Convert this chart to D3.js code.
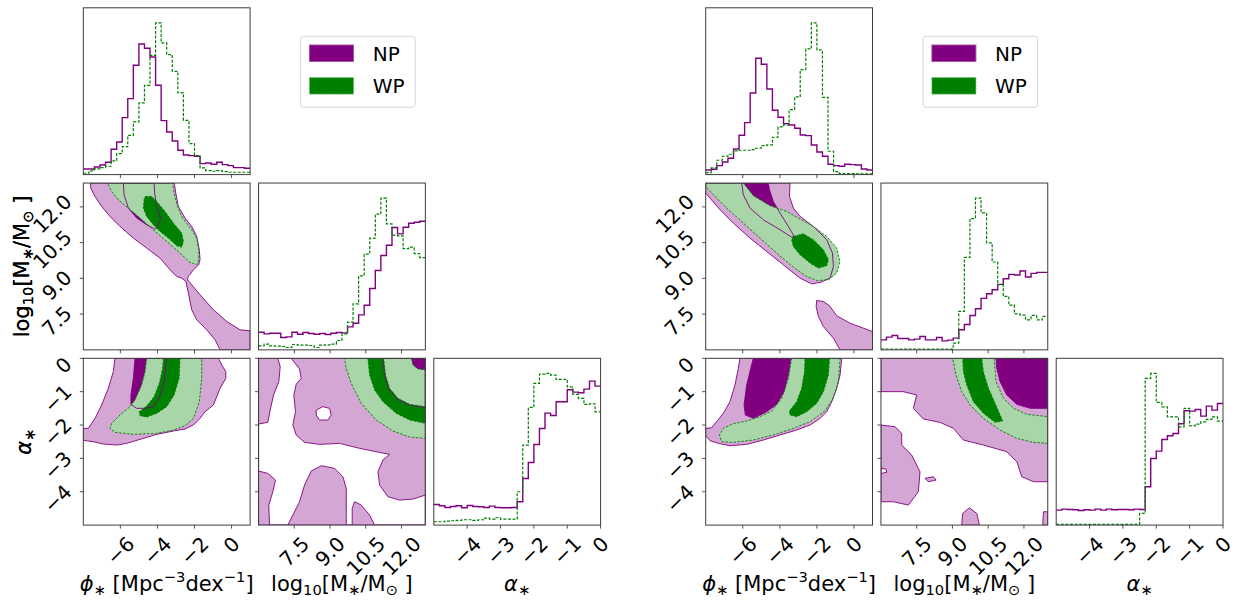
<!DOCTYPE html>
<html>
<head>
<meta charset="utf-8">
<script src="https://cdn.jsdelivr.net/npm/d3@7/dist/d3.min.js"></script>
<style>
  html, body { margin: 0; padding: 0; background: #fff; }
  text { font-family: "DejaVu Sans", sans-serif; fill: #000; }
</style>
</head>
<body>
<svg id="chart" width="1236" height="600"></svg>
<script>
// ---------- parameter ranges and ticks ----------
const phiRange = [-8, 1];
const massRange = [6, 13];
const alphaRange = [-5, 0];
const phiTicks = [-6, -4, -2, 0];
const massTicks = [7.5, 9.0, 10.5, 12.0];
const alphaTicks = [-4, -3, -2, -1, 0];
const seriesNames = ["NP", "WP"];

// ---------- 1D marginal histograms (30 bins over each range) ----------
// left corner
const npPhiL   = [17,17,23,29,37,76,98,171,228,328,392,379,353,268,162,128,101,73,59,57,55,33,35,31,37,30,27,21,21,19];
const wpPhiL   = [4,11,17,21,25,41,63,84,118,158,215,268,358,455,395,360,310,245,163,93,57,20,12,10,12,9,7,7,7,7];
const npMassL  = [53,48,50,50,37,39,53,47,52,49,47,49,46,50,52,51,69,80,105,134,184,238,283,314,367,348,368,380,383,386];
const wpMassL  = [12,17,12,11,10,7,16,14,14,13,7,14,15,17,28,48,83,138,222,287,335,407,455,378,344,342,304,308,289,277];
const npAlphaL = [62,58,53,56,58,52,59,56,55,53,57,53,52,52,53,70,140,188,242,290,336,329,370,370,406,399,397,408,432,417];
const wpAlphaL = [10,10,12,13,14,16,16,14,16,21,18,22,18,18,18,100,240,353,425,453,455,450,437,437,415,392,380,362,364,340];
// right corner
const npPhiR   = [14,16,27,38,49,77,118,156,245,349,331,257,193,172,153,149,139,119,117,89,68,55,31,27,25,31,30,29,17,14];
const wpPhiR   = [6,20,43,55,61,71,73,73,75,79,87,89,112,143,149,195,233,315,377,455,374,232,70,9,3,3,3,2,2,2];
const npMassR  = [30,38,43,34,34,30,32,40,30,30,37,27,29,35,60,76,103,123,154,168,180,196,213,226,224,236,218,229,232,232];
const wpMassR  = [2,2,2,2,2,2,2,2,2,2,2,2,2,20,115,277,393,454,410,320,263,195,160,134,108,104,90,103,90,100];
const npAlphaR = [45,48,47,46,44,46,45,48,45,48,46,47,47,46,48,47,115,200,222,257,268,275,304,343,342,347,327,357,345,365];
const wpAlphaR = [2,2,2,2,2,2,2,2,2,2,2,2,2,2,2,35,440,455,368,355,325,325,295,350,298,303,310,317,325,312];

// ---------- 2D credible regions (rings of [x, y] in data units) ----------
// suffix 2 = outer (2-sigma) region, 1 = inner (1-sigma) region
// left corner: phi vs log mass
const npPhiMass2L = [[[-7.6,13],[-3.09,13],[-3.01,12.58],[-2.87,12.02],[-2.51,11.53],[-2.15,11.18],[-1.88,10.76],[-1.74,10.2],[-1.7,9.78],[-1.77,9.57],[-2.06,9.36],[-2.33,9.08],[-2.38,8.94],[-2.15,8.73],[-1.7,8.31],[-0.98,7.68],[-0.26,7.19],[0.46,6.84],[1,6.8],[1,6],[-0.62,6],[-0.89,6.42],[-1.34,6.84],[-1.88,7.26],[-2.15,7.68],[-2.33,8.38],[-2.46,8.87],[-2.69,9.01],[-2.96,9.08],[-3.32,9.36],[-3.86,9.85],[-4.58,10.27],[-5.3,10.69],[-6.02,11.18],[-6.56,11.6],[-7.01,12.02],[-7.37,12.44],[-7.6,12.79]]];
const npPhiMass1L = [[[-5.84,13],[-5.8,12.51],[-5.57,11.95],[-5.12,11.53],[-4.58,11.25],[-4.13,11.07],[-4.04,11.1],[-3.82,11.49],[-4.04,12.02],[-4.15,12.58],[-4.18,13]]];
const wpPhiMass2L = [[[-6.7,13],[-3.18,13],[-3.1,12.58],[-2.92,12.02],[-2.64,11.53],[-2.15,11.04],[-1.88,10.69],[-1.77,10.2],[-1.77,9.78],[-1.88,9.57],[-2.24,9.67],[-2.78,10.06],[-3.5,10.55],[-4.22,11.04],[-4.94,11.53],[-5.57,11.95],[-6.11,12.3],[-6.47,12.65]]];
const wpPhiMass1L = [[[-4.67,12.44],[-4.31,12.44],[-4.04,12.23],[-3.59,11.81],[-3.14,11.32],[-2.69,10.9],[-2.6,10.55],[-2.69,10.31],[-2.96,10.37],[-3.41,10.69],[-3.86,10.97],[-4.22,11.25],[-4.58,11.6],[-4.76,11.95],[-4.72,12.3]]];
// left corner: phi vs alpha
const npPhiAlpha2L = [[[-6.29,0],[-0.71,0],[-0.53,-0.2],[-0.31,-0.4],[-0.31,-0.6],[-0.62,-0.9],[-0.98,-1.4],[-1.43,-1.6],[-1.7,-1.8],[-2.06,-2.0],[-2.51,-2.12],[-3.14,-2.18],[-4.04,-2.28],[-4.94,-2.43],[-5.66,-2.55],[-6.2,-2.6],[-6.92,-2.57],[-7.46,-2.5],[-8,-2.46],[-8,-2.1],[-7.73,-2.1],[-7.37,-1.8],[-7.01,-1.4],[-6.65,-0.9],[-6.38,-0.4]]];
const npPhiAlpha1L = [[[-5.21,0],[-5.3,-0.6],[-5.43,-1.1],[-5.43,-1.38],[-5.12,-1.5],[-4.67,-1.5],[-4.22,-1.45],[-3.9,-1.18],[-3.64,-0.7],[-3.5,0]]];
const wpPhiAlpha2L = [[[-4.58,0],[-1.61,0],[-1.61,-0.6],[-1.74,-1.3],[-2.06,-1.8],[-2.51,-2.02],[-3.14,-2.15],[-4.04,-2.25],[-5.3,-2.28],[-6.29,-2.22],[-6.56,-2.1],[-6.47,-1.95],[-6.02,-1.7],[-5.48,-1.45],[-5.21,-1.25],[-4.85,-0.8],[-4.67,-0.4]]];
const wpPhiAlpha1L = [[[-3.68,0],[-2.78,0],[-2.83,-0.6],[-3.1,-1.1],[-3.5,-1.45],[-4.04,-1.65],[-4.58,-1.76],[-4.94,-1.72],[-4.98,-1.6],[-4.58,-1.43],[-4.18,-1.15],[-3.9,-0.75],[-3.72,-0.3]]];
// left corner: log mass vs alpha (outer NP region = frame minus empty patches)
const npMassAlpha2L = [
  [[6,0],[13,0],[13,-5],[6,-5]],
  [[6.81,0],[7.37,0],[7.72,-0.32],[7.79,-0.6],[7.58,-0.78],[7.48,-1.1],[7.55,-1.6],[7.44,-2.0],[7.58,-2.3],[7.93,-2.52],[8.56,-2.58],[9.4,-2.55],[10.24,-2.7],[11.08,-2.82],[11.5,-2.88],[11.22,-3.05],[11.01,-3.4],[11.08,-3.8],[11.43,-4.15],[11.92,-4.25],[12.48,-4.22],[13,-4.1],[13,-5],[10.87,-5],[10.66,-4.7],[10.31,-4.4],[10.03,-4.3],[9.93,-4.5],[9.93,-5],[9.68,-5],[9.68,-3.9],[9.54,-3.55],[9.19,-3.3],[8.63,-3.22],[8.21,-3.38],[7.93,-3.8],[7.72,-4.3],[7.44,-4.7],[7.23,-5],[6.46,-5],[6.43,-4.4],[6.6,-4.0],[6.71,-3.65],[6.39,-3.45],[6,-3.38],[6,-1.97],[6.39,-1.92],[6.49,-1.55],[6.63,-1.1],[6.85,-0.7],[6.91,-0.25]],
  [[8.42,-1.55],[8.7,-1.45],[8.98,-1.5],[9.05,-1.7],[8.91,-1.85],[8.56,-1.85],[8.42,-1.7]]
];
const npMassAlpha1L = [[[11.22,0],[13,0],[13,-1.48],[12.31,-1.4],[11.82,-1.22],[11.47,-0.92],[11.29,-0.52]]];
const wpMassAlpha2L = [
  [[9.61,0],[13,0],[13,-2.4],[12.34,-2.36],[11.64,-2.18],[10.94,-1.85],[10.31,-1.35],[9.89,-0.75],[9.68,-0.3]],
  [[12.41,0],[13,0],[13,-0.35],[12.69,-0.32],[12.48,-0.2]]
];
const wpMassAlpha1L = [[[10.59,0],[10.66,-0.5],[10.87,-0.95],[11.22,-1.3],[11.78,-1.65],[12.34,-1.85],[13,-1.95],[13,-1.45],[12.34,-1.38],[11.85,-1.2],[11.5,-0.9],[11.33,-0.5],[11.25,0]]];

// right corner: phi vs log mass
const npPhiMass2R = [
  [[-8,13],[-3.45,13],[-3.48,12.44],[-3.27,11.95],[-2.91,11.6],[-2.19,11.18],[-1.47,10.62],[-1.16,10.06],[-1.11,9.5],[-1.29,9.01],[-1.83,8.83],[-2.28,8.77],[-2.91,9.01],[-3.81,9.57],[-4.71,10.13],[-5.61,10.69],[-6.51,11.32],[-7.23,11.88],[-7.77,12.37],[-8,12.58]],
  [[-2.01,8.07],[-1.65,8.03],[-1.32,7.85],[-0.93,7.43],[-0.21,7.12],[0.51,6.91],[1,6.77],[1,6],[-0.75,6],[-1.11,6.49],[-1.65,6.98],[-1.92,7.4],[-2.04,7.82]]
];
const npPhiMass1R = [[[-6.06,13],[-5.97,12.51],[-5.61,11.95],[-4.89,11.46],[-3.99,11.04],[-3.36,10.73],[-3.23,10.76],[-3.54,11.18],[-3.99,11.74],[-4.35,12.23],[-4.56,12.72],[-4.62,13]]];
const wpPhiMass2R = [[[-8,13],[-5.97,13],[-5.43,12.47],[-4.53,12.05],[-3.63,11.81],[-2.91,11.49],[-2.19,11.18],[-1.47,10.76],[-0.93,10.27],[-0.75,9.71],[-0.93,9.22],[-1.38,8.94],[-2.01,8.91],[-2.55,9.08],[-3.27,9.47],[-4.17,10.06],[-5.07,10.69],[-5.97,11.32],[-6.87,11.95],[-7.59,12.51],[-8,12.86]]];
const wpPhiMass1R = [[[-3.27,10.76],[-2.73,10.87],[-2.19,10.62],[-1.65,10.2],[-1.38,9.78],[-1.47,9.53],[-1.92,9.43],[-2.37,9.64],[-2.91,9.99],[-3.27,10.34],[-3.36,10.62]]];
// right corner: phi vs alpha
const npPhiAlpha2R = [[[-6.15,0],[-0.66,0],[-0.75,-0.5],[-0.93,-0.9],[-1.2,-1.3],[-1.47,-1.6],[-1.83,-1.8],[-2.37,-2.0],[-3.09,-2.15],[-3.99,-2.3],[-4.89,-2.45],[-5.79,-2.58],[-6.69,-2.62],[-7.32,-2.55],[-7.77,-2.47],[-8,-2.32],[-8,-2.1],[-7.68,-2.08],[-7.41,-1.9],[-7.05,-1.65],[-6.69,-1.3],[-6.42,-0.8],[-6.24,-0.3]]];
const npPhiAlpha1R = [[[-5.43,0],[-3.41,0],[-3.54,-0.5],[-3.77,-1.0],[-4.17,-1.38],[-4.71,-1.6],[-5.43,-1.8],[-5.86,-1.7],[-5.93,-1.4],[-5.79,-0.8],[-5.57,-0.3]]];
const wpPhiAlpha2R = [[[-3.36,0],[-0.75,0],[-0.84,-0.7],[-1.11,-1.2],[-1.61,-1.6],[-2.37,-1.9],[-3.27,-2.1],[-4.35,-2.3],[-5.43,-2.45],[-6.51,-2.52],[-7.14,-2.5],[-7.26,-2.3],[-7.05,-2.1],[-6.51,-1.96],[-5.79,-1.88],[-5.07,-1.75],[-4.44,-1.58],[-3.9,-1.2],[-3.54,-0.6]]];
const wpPhiAlpha1R = [[[-2.64,0],[-1.32,0],[-1.38,-0.5],[-1.65,-1.0],[-2.01,-1.35],[-2.55,-1.6],[-3.09,-1.75],[-3.45,-1.7],[-3.48,-1.58],[-3.09,-1.3],[-2.82,-0.9],[-2.67,-0.4]]];
// right corner: log mass vs alpha
const npMassAlpha2R = [
  [[6,0],[13,0],[13,-3.7],[12.4,-3.7],[11.91,-3.55],[11.7,-3.1],[11.28,-2.8],[10.3,-2.6],[9.46,-2.45],[9.04,-2.1],[8.48,-1.92],[7.78,-1.82],[7.36,-1.5],[7.5,-1.1],[6.94,-1.0],[6.38,-1.0],[6,-1.0]],
  [[6,-2],[6.59,-2.05],[6.87,-2.25],[6.87,-2.6],[7.29,-2.9],[7.64,-3.4],[7.57,-4.0],[7.15,-4.4],[6.52,-4.3],[6,-4.3]],
  [[6,-3.3],[6.21,-3.32],[6.24,-3.42],[6,-3.45]],
  [[9.39,-5],[9.43,-4.65],[9.71,-4.48],[10.02,-4.65],[10.13,-5]],
  [[12.79,-5],[12.82,-4.6],[13,-4.6],[13,-5]],
  [[7.85,-3.6],[8.2,-3.55],[8.31,-3.65],[7.99,-3.7]]
];
const npMassAlpha1R = [[[10.83,0],[13,0],[13,-1.5],[12.26,-1.5],[11.7,-1.38],[11.28,-1.1],[11,-0.7],[10.86,-0.3]]];
const wpMassAlpha2R = [
  [[9.01,0],[13,0],[13,-2.55],[12.4,-2.52],[11.7,-2.4],[11,-2.15],[10.3,-1.8],[9.74,-1.4],[9.39,-1.0],[9.15,-0.5]],
  [[10.75,0],[10.83,-0.7],[11.14,-1.2],[11.56,-1.5],[12.12,-1.68],[13,-1.75],[13,0]]
];
const wpMassAlpha1R = [[[9.43,0],[10.23,0],[10.3,-0.4],[10.51,-0.9],[10.79,-1.35],[11.11,-1.88],[10.79,-1.92],[10.3,-1.65],[9.88,-1.3],[9.6,-0.8],[9.46,-0.4]]];

// ---------- styling ----------
const NP_DARK = "#800080", NP_LIGHT = "#d4a6d4";
const WP_DARK = "#008000", WP_LIGHT = "#a9d6a9";
const SPINE = "#3c3c3c";
const FS = 20;        // tick labels and legend
const LABEL_FS = 21;  // axis titles

const panelSize = 166.8, panelStep = 175.25, panelTop = 7.8;

const intFmt = d => (d < 0 ? "\u2212" + Math.abs(d) : String(d));
const phiLabel = [{t: "\u03d5", it: 1}, {t: "\u2217", sub: 1}, {t: "\u00a0[Mpc"}, {t: "\u22123", sup: 1}, {t: "dex"}, {t: "\u22121", sup: 1}, {t: "]"}];
const massLabel = [{t: "log"}, {t: "10", sub: 1}, {t: "[M"}, {t: "\u2217", sub: 1}, {t: "/M"}, {t: "\u2299", sub: 1}, {t: "\u00a0]"}];
const alphaLabel = [{t: "\u03b1", it: 1}, {t: "\u2217", sub: 1}];

const params = [
  {range: phiRange, ticks: phiTicks, fmt: intFmt, label: phiLabel},
  {range: massRange, ticks: massTicks, fmt: d => d.toFixed(1), label: massLabel},
  {range: alphaRange, ticks: alphaTicks, fmt: intFmt, label: alphaLabel}
];

const corners = [
  {left: 83.3,
   hist: [[npPhiL, wpPhiL], [npMassL, wpMassL], [npAlphaL, wpAlphaL]],
   regions: {
     "1-0": {np2: npPhiMass2L, np1: npPhiMass1L, wp2: wpPhiMass2L, wp1: wpPhiMass1L},
     "2-0": {np2: npPhiAlpha2L, np1: npPhiAlpha1L, wp2: wpPhiAlpha2L, wp1: wpPhiAlpha1L},
     "2-1": {np2: npMassAlpha2L, np1: npMassAlpha1L, wp2: wpMassAlpha2L, wp1: wpMassAlpha1L}
   }},
  {left: 705.7,
   hist: [[npPhiR, wpPhiR], [npMassR, wpMassR], [npAlphaR, wpAlphaR]],
   regions: {
     "1-0": {np2: npPhiMass2R, np1: npPhiMass1R, wp2: wpPhiMass2R, wp1: wpPhiMass1R},
     "2-0": {np2: npPhiAlpha2R, np1: npPhiAlpha1R, wp2: wpPhiAlpha2R, wp1: wpPhiAlpha1R},
     "2-1": {np2: npMassAlpha2R, np1: npMassAlpha1R, wp2: wpMassAlpha2R, wp1: wpMassAlpha1R}
   }}
];

const svg = d3.select("#chart");
const defs = svg.append("defs");

function mathText(sel, parts, fs) {
  let shift = 0;
  parts.forEach(p => {
    let target = 0, size = fs;
    if (p.sub) { target = 0.2 * fs; size = 0.7 * fs; }
    if (p.sup) { target = -0.42 * fs; size = 0.7 * fs; }
    const ts = sel.append("tspan").text(p.t).attr("font-size", size);
    if (target - shift !== 0) ts.attr("dy", target - shift);
    if (p.it) ts.attr("font-style", "italic");
    shift = target;
  });
}

function rotatedTick(g, str, anchorX, anchorY, side) {
  const t = g.append("text").text(str)
    .attr("font-size", FS)
    .attr("text-anchor", "middle")
    .attr("dominant-baseline", "central");
  const w = t.node().getComputedTextLength();
  const h = 1.16 * FS;
  const half = (w + h) / (2 * Math.SQRT2);
  let cx, cy;
  if (side === "bottom") { cx = anchorX; cy = anchorY + 7 + half; }
  else { cx = anchorX - 7 - half; cy = anchorY + 7; }
  t.attr("transform", `translate(${cx},${cy}) rotate(-45)`);
}

let clipCount = 0;

function drawPanel(corner, row, col) {
  const px = corner.left + col * panelStep;
  const py = panelTop + row * panelStep;
  const g = svg.append("g");
  const clipId = "clip" + (clipCount++);
  defs.append("clipPath").attr("id", clipId)
    .append("rect").attr("x", px).attr("y", py).attr("width", panelSize).attr("height", panelSize);
  const body = g.append("g").attr("clip-path", `url(#${clipId})`);

  const xp = params[col];
  const x = d3.scaleLinear().domain(xp.range).range([px, px + panelSize]);
  let y = null;

  if (row === col) {
    // marginal histogram
    const [npv, wpv] = corner.hist[row];
    const ymax = 1.1 * d3.max(npv.concat(wpv));
    y = d3.scaleLinear().domain([0, ymax]).range([py + panelSize, py]);
    const binW = (xp.range[1] - xp.range[0]) / npv.length;
    const steps = v => v.map((d, k) => [xp.range[0] + k * binW, d]).concat([[xp.range[1], v[v.length - 1]]]);
    const line = d3.line().x(d => x(d[0])).y(d => y(d[1])).curve(d3.curveStepAfter);
    body.append("path").attr("d", line(steps(npv)))
      .attr("fill", "none").attr("stroke", NP_DARK).attr("stroke-width", 1.4);
    body.append("path").attr("d", line(steps(wpv)))
      .attr("fill", "none").attr("stroke", WP_DARK).attr("stroke-width", 1.2)
      .attr("stroke-dasharray", "3,1.6");
  } else {
    const yp = params[row];
    y = d3.scaleLinear().domain(yp.range).range([py + panelSize, py]);
    const reg = corner.regions[row + "-" + col];
    const ring = d3.line().x(d => x(d[0])).y(d => y(d[1]));
    const pathOf = rings => rings.map(r => ring(r) + "Z").join("");
    const fills = [["np2", NP_LIGHT], ["np1", NP_DARK], ["wp2", WP_LIGHT], ["wp1", WP_DARK]];
    fills.forEach(([k, c]) => {
      body.append("path").attr("d", pathOf(reg[k]))
        .attr("fill", c).attr("fill-rule", "evenodd").attr("stroke", "none");
    });
    ["np2", "np1"].forEach(k => {
      body.append("path").attr("d", pathOf(reg[k]))
        .attr("fill", "none").attr("stroke", NP_DARK).attr("stroke-width", 0.9)
        .attr("stroke-linejoin", "round");
    });
    ["wp2", "wp1"].forEach(k => {
      body.append("path").attr("d", pathOf(reg[k]))
        .attr("fill", "none").attr("stroke", WP_DARK).attr("stroke-width", 0.9)
        .attr("stroke-dasharray", "2.5,1.5");
    });
    // left ticks on every 2D panel, labels only in first column
    yp.ticks.forEach(t => {
      g.append("line").attr("x1", px - 3.5).attr("x2", px).attr("y1", y(t)).attr("y2", y(t))
        .attr("stroke", SPINE).attr("stroke-width", 0.9);
      if (col === 0) rotatedTick(g, yp.fmt(t), px, y(t), "left");
    });
    if (col === 0) {
      const lab = g.append("text")
        .attr("text-anchor", "middle")
        .attr("font-size", LABEL_FS)
        .attr("transform", `translate(${row === 1 ? 28.5 : 31},${py + panelSize / 2}) rotate(-90)`);
      mathText(lab, yp.label, LABEL_FS);
    }
  }

  // frame
  g.append("rect").attr("x", px).attr("y", py).attr("width", panelSize).attr("height", panelSize)
    .attr("fill", "none").attr("stroke", SPINE).attr("stroke-width", 1);

  // bottom ticks on every panel, labels only on the last row
  xp.ticks.forEach(t => {
    g.append("line").attr("x1", x(t)).attr("x2", x(t)).attr("y1", py + panelSize).attr("y2", py + panelSize + 3.5)
      .attr("stroke", SPINE).attr("stroke-width", 0.9);
    if (row === 2) rotatedTick(g, xp.fmt(t), x(t), py + panelSize, "bottom");
  });
  if (row === 2) {
    const lab = g.append("text")
      .attr("text-anchor", "middle")
      .attr("font-size", LABEL_FS)
      .attr("x", px + panelSize / 2)
      .attr("y", 591);
    mathText(lab, xp.label, LABEL_FS);
  }
}

function drawLegend(corner) {
  const lx = corner.left + 217.4, ly = 36.3;
  const g = svg.append("g");
  g.append("rect").attr("x", lx).attr("y", ly).attr("width", 114.5).attr("height", 71)
    .attr("rx", 3).attr("fill", "#fff").attr("stroke", "#d6d6d6").attr("stroke-width", 1);
  const styles = [
    {fill: NP_DARK, stroke: "#a24ea2", dash: null},
    {fill: WP_DARK, stroke: "#5cb85c", dash: "2,1.2"}
  ];
  seriesNames.forEach((name, i) => {
    const yy = ly + 8.7 + i * 32.6;
    g.append("rect").attr("x", lx + 8.8).attr("y", yy).attr("width", 44).attr("height", 16.5)
      .attr("fill", styles[i].fill).attr("stroke", styles[i].stroke).attr("stroke-width", 0.9)
      .attr("stroke-dasharray", styles[i].dash);
    g.append("text").attr("x", lx + 72).attr("y", yy + 15.8).attr("font-size", FS).text(name);
  });
}

corners.forEach(corner => {
  for (let row = 0; row < 3; row++) {
    for (let col = 0; col <= row; col++) drawPanel(corner, row, col);
  }
  drawLegend(corner);
});
</script>
</body>
</html>
